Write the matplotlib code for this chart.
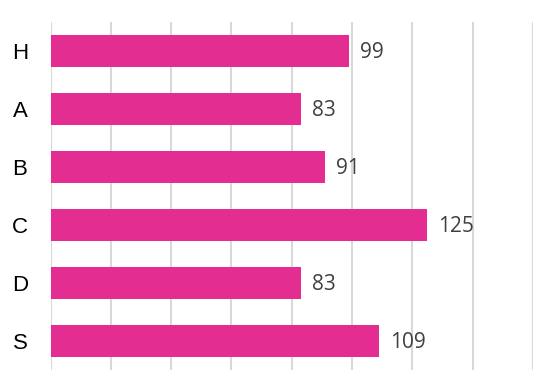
import matplotlib

matplotlib.use("Agg")

import matplotlib.pyplot as plt

categories = ["H", "A", "B", "C", "D", "S"]
values = [99, 83, 91, 125, 83, 109]
x_ticks = [0, 20, 40, 60, 80, 100, 120, 140, 160]

BAR_COLOR = "#e32d91"
GRID_COLOR = "#d9d9d9"
LABEL_COLOR = "#404040"

fig = plt.figure(figsize=(5.54, 3.92), dpi=100)
ax = fig.add_axes([50.5 / 554, 22 / 392, 482.5 / 554, 348 / 392])

ypos = list(range(len(categories)))
ax.barh(ypos, values, height=0.55, color=BAR_COLOR, zorder=3)

for y, v in zip(ypos, values):
    ax.text(v + 3.6, y + 0.02, str(v), va="center", ha="left", fontsize=15,
            color=LABEL_COLOR, family=["Open Sans", "DejaVu Sans"])

ax.set_xlim(0, 160)
ax.set_ylim(len(categories) - 0.5, -0.5)
ax.set_xticks(x_ticks)
ax.set_xticklabels([])
ax.set_yticks(ypos)
ax.set_yticklabels(categories, fontsize=16, ha="center",
                   family=["Liberation Sans", "DejaVu Sans"])
ax.tick_params(axis="y", length=0, pad=22)
ax.tick_params(axis="x", length=0)
ax.grid(True, axis="x", color=GRID_COLOR, linewidth=1.5, zorder=0)
for side in ["top", "right", "bottom", "left"]:
    ax.spines[side].set_visible(False)

fig.savefig("out.png", dpi=100)
